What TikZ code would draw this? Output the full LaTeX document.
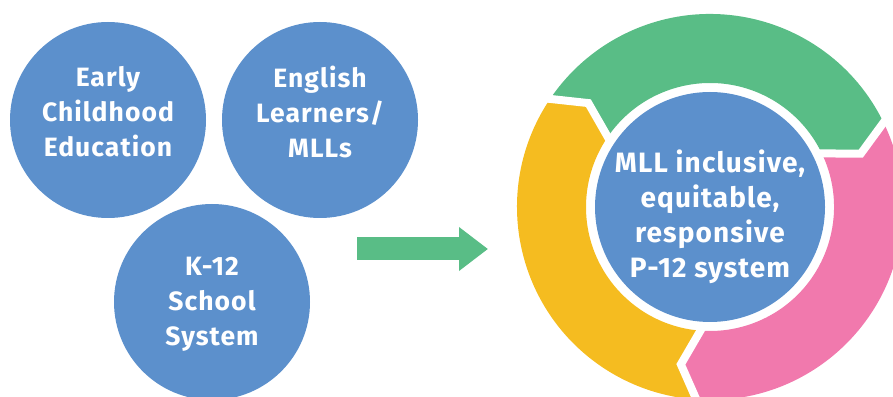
\documentclass[tikz,border=0pt]{standalone}
\usepackage{fontspec}
\setmainfont{Fira Sans}[LetterSpace=4]
\usetikzlibrary{positioning}
\usetikzlibrary{arrows.meta}

\definecolor{bubbleblue}{RGB}{92,144,204}
\definecolor{ringgreen}{RGB}{89,189,134}
\definecolor{ringyellow}{RGB}{245,188,32}
\definecolor{ringpink}{RGB}{241,121,173}

\tikzset{
    bubble/.style={circle, fill=bubbleblue, minimum size=196pt, inner sep=0pt},
    bubbletext/.style={text=white, align=center, font=\fontsize{26.5}{35}\selectfont\bfseries},
    gap/.style={draw=white, line width=8pt, line join=miter}
}

\begin{document}
\begin{tikzpicture}[x=1pt, y=1pt]
        \useasboundingbox (0,0) rectangle (893,396);

        % The three circles on the left
        \node (ece) [bubble] at (108, 276) {};
        \node (ell) [bubble] at (320, 276) {};
        \node (k12) [bubble] at (212, 94) {};

        \node (ecetext) [bubbletext] at ([yshift=8.5pt]ece) {Early\\Childhood\\Education};
        \node (elltext) [bubbletext] at ([yshift=8.5pt]ell) {English\\Learners/\\MLLs};
        \node (k12text) [bubbletext] at ([yshift=-2pt]k12) {K-12\\School\\System};

        % Big arrow in the middle
        \coordinate (arrtail) at (357, 147);
        \coordinate (arrtip) at (488, 147);
        \draw[ringgreen, line width=23pt, -{Triangle[length=29pt, width=42pt]}] (arrtail) -- (arrtip);

        % The ring of three arrows, each one pointing clockwise into the next.
        % Every piece starts at its head boundary and ends at its notched tail.
        \begin{scope}[shift={(710, 189)}]
            \foreach \h/\col in {27/ringgreen, 147/ringyellow, 267/ringpink} {
                \pgfmathsetmacro{\t}{\h+120}
                \fill[\col] (\h:193) arc[start angle=\h, end angle=\t, radius=193]
                    -- ({\t-7.5}:160) -- (\t:124)
                    arc[start angle=\t, end angle=\h, radius=124]
                    -- ({\h-7.5}:160) -- cycle;
            }
            % white gaps between the pieces
            \foreach \h in {27, 147, 267}
                \draw[gap] (\h:200) -- ({\h-7.5}:160) -- (\h:118);
        \end{scope}

        \node (goal) [bubble, minimum size=230pt] at (710, 189) {};
        \node (goaltext) [bubbletext, font=\fontsize{28}{35}\selectfont\bfseries] at ([yshift=-10pt]goal)
            {MLL inclusive,\\equitable,\\responsive\\P-12 system};
\end{tikzpicture}
\end{document}
